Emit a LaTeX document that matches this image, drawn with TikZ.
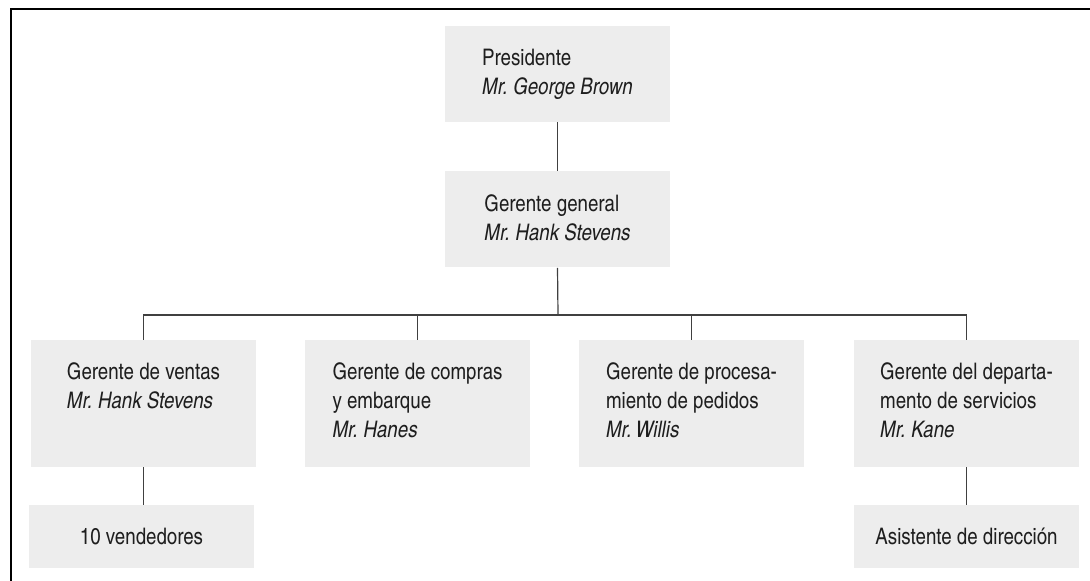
\documentclass[tikz,border=0pt]{standalone}
\usepackage{fontspec}
\setmainfont{texgyreheroscn}[Extension=.otf,UprightFont=*-regular,ItalicFont=*-italic,BoldFont=*-bold,BoldItalicFont=*-bolditalic]
\usetikzlibrary{positioning}
\definecolor{boxgray}{HTML}{EDEDED}
\definecolor{linegray}{HTML}{404040}
\definecolor{txtgray}{HTML}{1E1E1E}

\begin{document}
\begin{tikzpicture}[
    x=0.5pt,y=-0.5pt,
    box/.style={rectangle,fill=boxgray,minimum width=112.5pt,inner sep=0pt},
    topbox/.style={box,minimum height=48pt},
    midbox/.style={box,minimum height=63.5pt},
    lowbox/.style={box,minimum height=31.5pt,text=txtgray,font=\fontsize{11.4}{14.5}\selectfont},
    txt/.style={align=left,inner sep=0pt,text=txtgray,font=\fontsize{11.4}{14.5}\selectfont},
    conn/.style={draw=linegray,line width=0.6pt}
  ]
    \useasboundingbox (0,0) rectangle (1090,581);
    % frame
    \draw[line width=1pt] (11,581) -- (11,9) -- (1090,9);
    % boxes
    \node[topbox] (pres) at (557.5,74) {};
    \node[topbox] (gg) at (557.5,219.5) {};
    \node[midbox] (ventas) at (143.5,403.5) {};
    \node[midbox] (compras) at (417.5,403.5) {};
    \node[midbox] (pedidos) at (691.5,403.5) {};
    \node[midbox] (servicios) at (966.5,403.5) {};
    \node[lowbox] (vendedores) at (141.5,536.5) {10 vendedores};
    \node[lowbox] (asistente) at (966.5,536.5) {Asistente de direcci\'on};
    % texts
    \node[txt,below=11.5pt of pres.north] {Presidente\\\textit{Mr.\ George Brown}};
    \node[txt,below=11.5pt of gg.north] {Gerente general\\\textit{Mr.\ Hank Stevens}};
    \node[txt,below=11.5pt of ventas.north] {Gerente de ventas\\\textit{Mr.\ Hank Stevens}};
    \node[txt,below=11.5pt of compras.north] {Gerente de compras\\y embarque\\\textit{Mr.\ Hanes}};
    \node[txt,below=11.5pt of pedidos.north] {Gerente de procesa-\\miento de pedidos\\\textit{Mr.\,Willis}};
    \node[txt,below=11.5pt of servicios.north] {Gerente del departa-\\mento de servicios\\\textit{Mr.\ Kane}};
    % connectors
    \coordinate (bus) at (558,315);
    \draw[conn] (pres.south) -- (gg.south |- gg.north);
    \draw[conn] (gg.south) -- (bus);
    \draw[conn] (ventas.north) |- (bus) -| (servicios.north);
    \draw[conn] (compras.north) -- (compras.north |- bus);
    \draw[conn] (pedidos.north) -- (pedidos.north |- bus);
    \draw[conn] (ventas.south) -- (ventas.south |- vendedores.north);
    \draw[conn] (servicios.south) -- (asistente.north);
  \end{tikzpicture}
\end{document}
